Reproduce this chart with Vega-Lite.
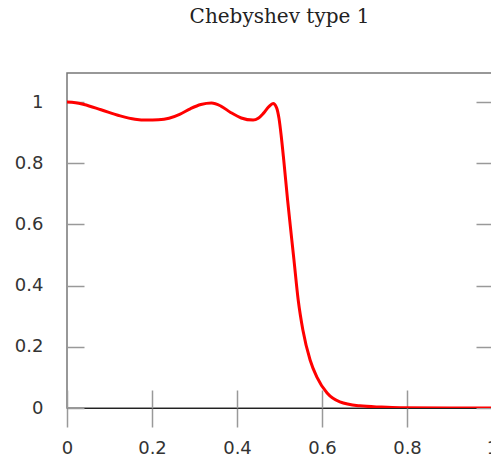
{
  "$schema": "https://vega.github.io/schema/vega-lite/v6.json",
  "width": 425,
  "height": 335,
  "autosize": {"type": "none"},
  "padding": {"left": 67, "top": 73, "right": 0, "bottom": 53},
  "title": {"text": "Chebyshev type 1", "font": "DejaVu Serif", "fontSize": 20, "fontWeight": "normal", "color": "#222", "anchor": "middle", "offset": 46},
  "config": {
    "view": {"stroke": "#777", "strokeWidth": 1.5},
    "axis": {"labelFont": "DejaVu Sans", "labelFontSize": 18, "labelColor": "#333", "grid": false, "tickColor": "#999", "tickWidth": 1.5, "title": null}
  },
  "data": {"values": [
    {"f": 0.0, "g": 1.0},
    {"f": 0.02, "g": 0.998},
    {"f": 0.04, "g": 0.992},
    {"f": 0.08, "g": 0.975},
    {"f": 0.125, "g": 0.955},
    {"f": 0.16, "g": 0.944},
    {"f": 0.188, "g": 0.941},
    {"f": 0.215, "g": 0.942},
    {"f": 0.24, "g": 0.947},
    {"f": 0.265, "g": 0.96},
    {"f": 0.29, "g": 0.978},
    {"f": 0.315, "g": 0.992},
    {"f": 0.34, "g": 0.997},
    {"f": 0.362, "g": 0.987},
    {"f": 0.385, "g": 0.966},
    {"f": 0.41, "g": 0.948},
    {"f": 0.438, "g": 0.941},
    {"f": 0.45, "g": 0.947},
    {"f": 0.462, "g": 0.963},
    {"f": 0.475, "g": 0.985},
    {"f": 0.485, "g": 0.995},
    {"f": 0.493, "g": 0.982},
    {"f": 0.499, "g": 0.945},
    {"f": 0.504, "g": 0.89},
    {"f": 0.51, "g": 0.81},
    {"f": 0.519, "g": 0.68},
    {"f": 0.529, "g": 0.549},
    {"f": 0.534, "g": 0.484},
    {"f": 0.544, "g": 0.353},
    {"f": 0.555, "g": 0.255},
    {"f": 0.572, "g": 0.157},
    {"f": 0.588, "g": 0.101},
    {"f": 0.612, "g": 0.049},
    {"f": 0.642, "g": 0.02},
    {"f": 0.689, "g": 0.007},
    {"f": 0.74, "g": 0.003},
    {"f": 0.784, "g": 0.001},
    {"f": 0.9, "g": 0.0},
    {"f": 1.0, "g": 0.0}
  ]},
  "resolve": {"axis": {"x": "independent", "y": "independent"}},
  "layer": [
    {
      "mark": {"type": "line", "color": "#ff0000", "strokeWidth": 3, "interpolate": "monotone", "clip": true},
      "encoding": {
        "x": {"field": "f", "type": "quantitative", "scale": {"domain": [0, 1], "nice": false},
              "axis": {"orient": "bottom", "values": [0, 0.2, 0.4, 0.6, 0.8, 1], "format": "~g", "tickSize": 19, "domainColor": "#222", "domainWidth": 1, "labelPadding": 12, "labelFlush": false}},
        "y": {"field": "g", "type": "quantitative", "scale": {"domain": [0, 1.095], "nice": false},
              "axis": {"orient": "left", "values": [0, 0.2, 0.4, 0.6, 0.8, 1], "format": "~g", "offset": -17, "tickSize": 17, "domain": false, "labelPadding": 24, "labelFlush": false}}
      }
    },
    {
      "mark": {"type": "line", "strokeOpacity": 0},
      "encoding": {
        "x": {"field": "f", "type": "quantitative",
              "axis": {"orient": "bottom", "values": [0, 0.2, 0.4, 0.6, 0.8, 1], "offset": -18, "tickSize": 18, "domain": false, "labels": false}},
        "y": {"field": "g", "type": "quantitative",
              "axis": {"orient": "right", "values": [0, 0.2, 0.4, 0.6, 0.8, 1], "offset": -16, "tickSize": 16, "domain": false, "labels": false}}
      }
    }
  ]
}
